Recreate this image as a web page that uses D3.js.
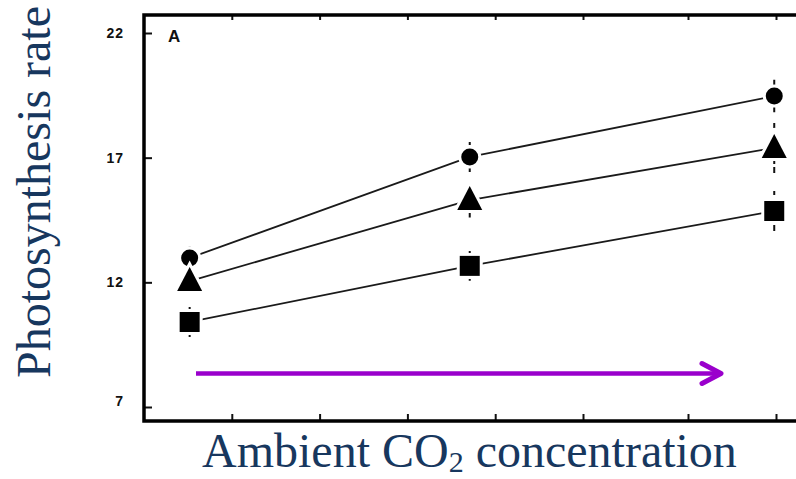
<!DOCTYPE html>
<html>
<head>
<meta charset="utf-8">
<script src="https://cdn.jsdelivr.net/npm/d3@7"></script>
<style>
  body { margin: 0; background: #fff; }
  svg { display: block; }
</style>
</head>
<body>
<div id="chart"></div>
<script>
// data
const co2 = [52, 371, 698];               // x position in axis units (no labels in original)
const circleVals = [12.98, 17.03, 19.47];
const circleErr = [0.45, 0.6, 0.65];
const triVals = [12.05, 15.3, 17.39];
const triErr = [0.4, 0.7, 1.0];
const squareVals = [10.41, 12.66, 14.86];
const squareErr = [0.6, 0.6, 0.8];
const yTicks = [7, 12, 17, 22];
const xTicks = [100, 200, 300, 400, 500, 600, 700];

const width = 796;
const height = 479;
const navy = "#17375e";
const purple = "#9a00cc";

const svg = d3
  .select("#chart")
  .append("svg")
  .attr("width", width)
  .attr("height", height);

// scanned axis is a bit stretched, so a polylinear scale
const x = d3.scaleLinear().domain([0, 500, 600, 700]).range([144, 583, 688, 776]);
const y = d3.scaleLinear().domain([7, 22]).range([407, 33]);

const frameTop = 15;
const frameBottom = 421;

// axes (ticks only, frame drawn below)
const gLeft = svg
  .append("g")
  .attr("transform", "translate(144,0)")
  .call(d3.axisLeft(y).tickValues(yTicks).tickSizeInner(-8).tickSizeOuter(0).tickPadding(20));
gLeft.select(".domain").remove();
gLeft.selectAll("line").attr("stroke", "#111").attr("stroke-width", 2);
gLeft
  .selectAll("text")
  .attr("font-family", "Liberation Sans, Arial, sans-serif")
  .attr("font-weight", "bold")
  .attr("font-size", 14)
  .attr("letter-spacing", 1)
  .attr("fill", "#111")
  .attr("dy", (d) => (d === 7 ? "-0.1em" : "0.32em"));

const gBottom = svg
  .append("g")
  .attr("transform", `translate(0,${frameBottom})`)
  .call(d3.axisBottom(x).tickValues(xTicks).tickSizeInner(-7).tickSizeOuter(0).tickFormat(""));
gBottom.select(".domain").remove();
gBottom.selectAll("line").attr("stroke", "#111").attr("stroke-width", 2);

const gTop = svg
  .append("g")
  .attr("transform", `translate(0,${frameTop})`)
  .call(d3.axisTop(x).tickValues(xTicks).tickSizeInner(-5).tickSizeOuter(0).tickFormat(""));
gTop.select(".domain").remove();
gTop.selectAll("line").attr("stroke", "#111").attr("stroke-width", 2);

// frame
svg
  .append("path")
  .attr("d", `M${width},${frameTop}H144V${frameBottom}H${width}`)
  .attr("fill", "none")
  .attr("stroke", "#000")
  .attr("stroke-width", 3.5);

svg
  .append("text")
  .attr("x", 168)
  .attr("y", 42)
  .attr("font-family", "Liberation Sans, Arial, sans-serif")
  .attr("font-weight", "bold")
  .attr("font-size", 17)
  .attr("fill", "#111")
  .text("A");

// series
const series = [
  { name: "circle", vals: circleVals, err: circleErr },
  { name: "triangle", vals: triVals, err: triErr },
  { name: "square", vals: squareVals, err: squareErr },
];

const line = d3
  .line()
  .x((d) => x(d.x))
  .y((d) => y(d.v));

function markerPath(kind) {
  if (kind === "circle") return d3.symbol(d3.symbolCircle, Math.PI * 8.5 * 8.5)();
  if (kind === "square") return d3.symbol(d3.symbolSquare, 400)();
  return "M0,-14L12.5,10L-12.5,10Z";
}

series.forEach((s) => {
  const pts = s.vals.map((v, i) => ({ x: co2[i], v: v, e: s.err[i] }));

  svg
    .append("path")
    .datum(pts)
    .attr("d", line)
    .attr("fill", "none")
    .attr("stroke", "#1a1a1a")
    .attr("stroke-width", 1.8);

  svg
    .selectAll(".err-" + s.name)
    .data(pts)
    .join("line")
    .attr("class", "err-" + s.name)
    .attr("x1", (d) => x(d.x))
    .attr("x2", (d) => x(d.x))
    .attr("y1", (d) => y(d.v - d.e))
    .attr("y2", (d) => y(d.v + d.e))
    .attr("stroke", "#111")
    .attr("stroke-width", 2)
    .attr("stroke-dasharray", "6,3");

  svg
    .selectAll(".mk-" + s.name)
    .data(pts)
    .join("path")
    .attr("class", "mk-" + s.name)
    .attr("transform", (d) => `translate(${x(d.x)},${y(d.v)})`)
    .attr("d", markerPath(s.name))
    .attr("fill", "#000")
    .attr("stroke", "#fff")
    .attr("stroke-width", 6)
    .attr("paint-order", "stroke");
});

// purple arrow
const arrowY = 373.5;
svg
  .append("line")
  .attr("x1", 196)
  .attr("x2", 719)
  .attr("y1", arrowY)
  .attr("y2", arrowY)
  .attr("stroke", purple)
  .attr("stroke-width", 4.5);
svg
  .append("path")
  .attr("d", `M702,${arrowY - 10}L721,${arrowY}L702,${arrowY + 10}`)
  .attr("fill", "none")
  .attr("stroke", purple)
  .attr("stroke-width", 5)
  .attr("stroke-linecap", "round")
  .attr("stroke-linejoin", "round");

// axis titles
svg
  .append("text")
  .attr("transform", "translate(50,192) rotate(-90)")
  .attr("text-anchor", "middle")
  .attr("font-family", "Liberation Serif, Times New Roman, serif")
  .attr("font-size", 48)
  .attr("fill", navy)
  .text("Photosynthesis rate");

const xt = svg
  .append("text")
  .attr("x", 202)
  .attr("y", 467)
  .attr("font-family", "Liberation Serif, Times New Roman, serif")
  .attr("font-size", 48)
  .attr("fill", navy);
xt.append("tspan").text("Ambient CO");
xt.append("tspan").attr("font-size", 30).attr("dy", 5).text("2");
xt.append("tspan").attr("dy", -5).text(" concentration");
</script>
</body>
</html>
